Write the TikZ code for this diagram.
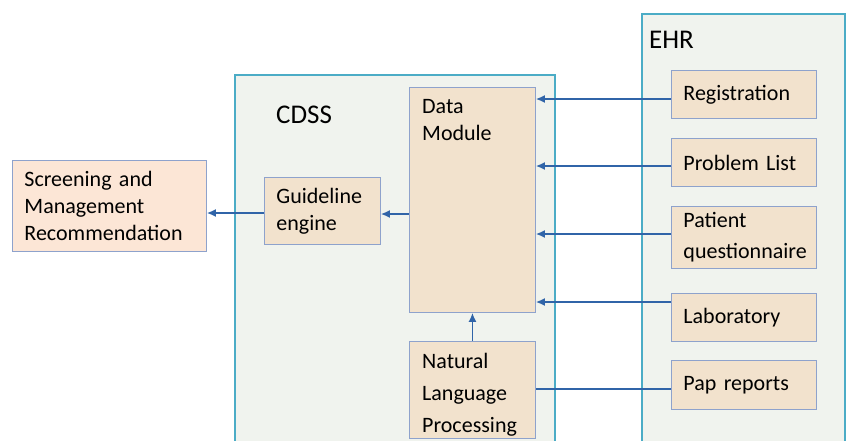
\documentclass[tikz,border=0pt]{standalone}
\usepackage{fontspec}
\setmainfont{Carlito}
\usetikzlibrary{arrows.meta,positioning}
\definecolor{panelfill}{HTML}{F0F3EE}
\definecolor{panelline}{HTML}{4BACC6}
\definecolor{boxfill}{HTML}{F2E2CD}
\definecolor{boxline}{HTML}{8EA2CC}
\definecolor{outfill}{HTML}{FCE6D6}
\definecolor{arrowblue}{HTML}{3064A8}
\begin{document}
\begin{tikzpicture}[x=1pt,y=-1pt,>={Latex[length=9pt,width=8pt]},
	panel/.style={draw=panelline,fill=panelfill,line width=1.5pt,inner sep=0pt,anchor=north west},
	title/.style={anchor=base west,inner sep=0pt,font=\fontsize{27}{32}\selectfont},
	box/.style={draw=boxline,fill=boxfill,line width=0.9pt,anchor=north west,inner xsep=12pt,inner ysep=0pt,align=left,font=\fontsize{22}{27}\selectfont},
	inlbl/.style={anchor=north west,align=left,inner xsep=13pt,inner ysep=12pt},
	flow/.style={->,draw=arrowblue,line width=1.5pt},
	link/.style={draw=arrowblue,line width=1.5pt}]
	\clip (0,0) rectangle (849,440);
	%Khung CDSS
	\node[panel,minimum width=320,minimum height=390] (cdss) at (234,74) {};
	\node[title] (cdsstitle) at (276,123) {CDSS};
	%Khung EHR
	\node[panel,minimum width=203,minimum height=450] (ehr) at (641,13) {};
	\node[title] (ehrtitle) at (649,48) {EHR};
	%Ket qua
	\node[box,fill=outfill,minimum width=194,minimum height=91,text width=170] (scr) at (12,160) {Screening and\\Management\\Recommendation};
	%Trong CDSS
	\node[box,minimum width=116,minimum height=67,text width=92] (gl) at (264,177) {Guideline\\engine};
	\node[box,minimum width=126,minimum height=225,
		label={[inlbl,font=\fontsize{22}{27}\selectfont]north west:Data\\Module}] (dm) at (409,87) {};
	\node[box,minimum width=126,minimum height=97,
		label={[inlbl,font=\fontsize{22}{32}\selectfont]north west:Natural\\Language\\Processing}] (nlp) at (409,341) {};
	%Trong EHR
	\node[box,minimum width=145,minimum height=48,text width=121] (reg) at (671,70) {Registration};
	\node[box,minimum width=145,minimum height=48,text width=121] (prob) at (671,138) {Problem List};
	\node[box,minimum width=145,minimum height=62,text width=121,font=\fontsize{22}{31}\selectfont] (pq) at (671,206) {Patient\\questionnaire};
	\node[box,minimum width=145,minimum height=48,text width=121] (lab) at (671,293) {Laboratory};
	\node[box,minimum width=145,minimum height=49,text width=121] (pap) at (671,360) {Pap reports};
	%Diem ra
	\coordinate (regout) at (reg.west |- 0,99);
	\coordinate (probout) at (prob.west |- 0,166);
	\coordinate (pqout) at (pq.west |- 0,234);
	\coordinate (labout) at (lab.west |- 0,302);
	\coordinate (papout) at (pap.west |- 0,389);
	\coordinate (dmout) at (dm.west |- 0,214);
	\coordinate (glout) at (gl.west |- 0,213);
	%Mui ten
	\draw[flow] (regout) -- (dm.east |- regout);
	\draw[flow] (probout) -- (dm.east |- probout);
	\draw[flow] (pqout) -- (dm.east |- pqout);
	\draw[flow] (labout) -- (dm.east |- labout);
	\draw[link] (papout) -- (nlp.east |- papout);
	\draw[flow] (nlp.north) -- (dm.south);
	\draw[flow] (dmout) -- (gl.east |- dmout);
	\draw[flow] (glout) -- (scr.east |- glout);
\end{tikzpicture}
\end{document}
